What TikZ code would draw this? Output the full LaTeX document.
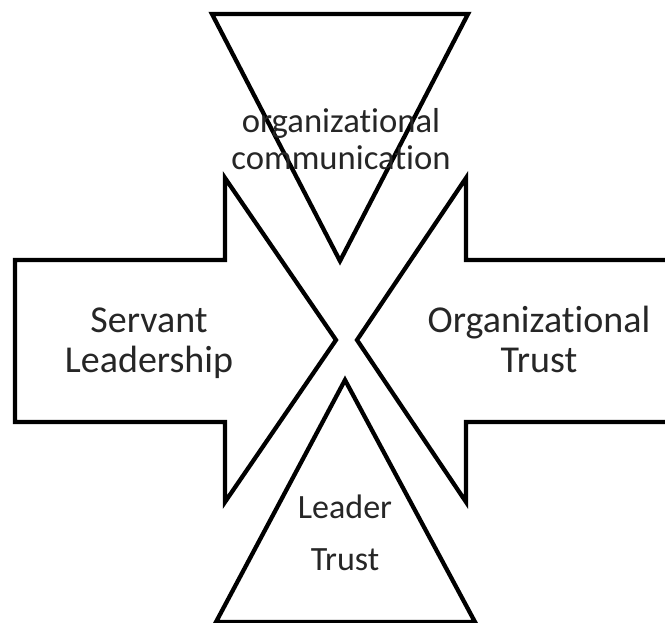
\documentclass[tikz,border=0pt]{standalone}
\usepackage{fontspec}
\setmainfont{Carlito}[Ligatures={NoCommon}]
\usepackage{tikz}

\begin{document}
\begin{tikzpicture}[x=0.75pt,y=0.75pt,yscale=-1,
  shapeline/.style={line width=3.2, line join=miter, draw=black},
  label/.style={inner sep=0pt, align=center, text=black!85}]
\useasboundingbox (0,0) rectangle (665,623);
\fill[white] (0,0) rectangle (665,623);
\clip (0,0) rectangle (665,623);

%Shape: Triangle (top, pointing down)
\draw [shapeline] (212,14) -- (468,14) -- (340,261) -- cycle ;
%Shape: Arrow (left, pointing right)
\draw [shapeline] (15,260) -- (225,260) -- (225,178) -- (336,340) -- (225,502) -- (225,422) -- (15,422) -- cycle ;
%Shape: Arrow (right, pointing left)
\draw [shapeline] (690,260) -- (466,260) -- (466,178) -- (357,340) -- (466,502) -- (466,422) -- (690,422) -- cycle ;
%Shape: Triangle (bottom, pointing up)
\draw [shapeline] (345,380) -- (475,622) -- (216,622) -- cycle ;

% Text Node
\node [label, font=\fontsize{26}{27.75}\selectfont] (orgcomm) at (341,139) {organizational\\communication};
% Text Node
\node [label, font=\fontsize{28.5}{30}\selectfont] (servant) at (149,343) {Servant\\Leadership};
% Text Node
\node [label, font=\fontsize{28.5}{30}\selectfont] (orgtrust) at (539,339) {Organizational\\Trust};
% Text Node
\node [label, font=\fontsize{25.5}{39}\selectfont] (leadertrust) at (345,533) {Leader\\Trust};

\end{tikzpicture}
\end{document}
